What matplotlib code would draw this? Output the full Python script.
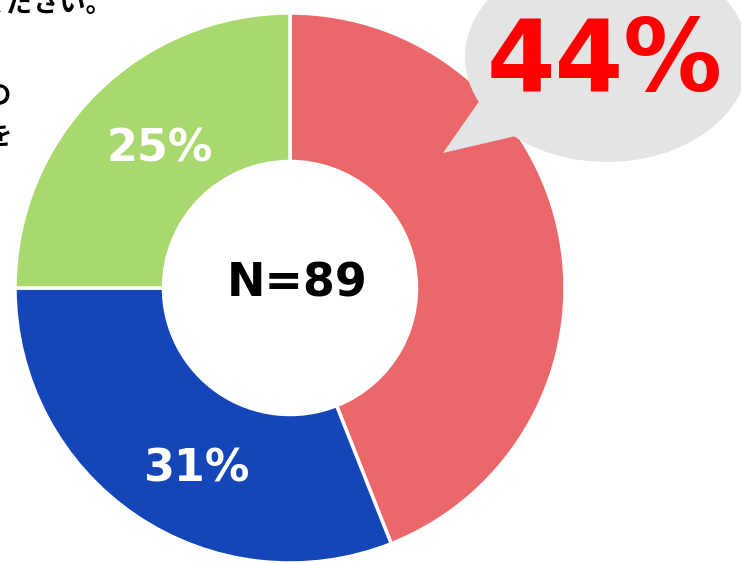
import matplotlib.pyplot as plt
from matplotlib.patches import Ellipse, Polygon

# data
labels = ['A', 'B', 'C']
shares = [44, 31, 25]
colors = ['#EC6769', '#1446BA', '#A8D86E']
n_total = 89
side_texts = ['ください。', 'の', 'を']

W, H = 741, 563
fig = plt.figure(figsize=(W / 100, H / 100), dpi=100)
ax = fig.add_axes([0, 0, 1, 1])

cx, cy, r = 290, 563 - 288, 275
wedges, _ = ax.pie(shares, colors=colors, startangle=90, counterclock=False,
                   radius=r, center=(cx, cy), frame=True,
                   wedgeprops=dict(width=r * 0.54, edgecolor='white', linewidth=2.5))
ax.set_xlim(0, W)
ax.set_ylim(0, H)
ax.set_aspect('equal')
ax.axis('off')

# slice labels (first one goes in the callout)
ax.text(160, 563 - 149, f'{shares[2]}%', color='white', fontsize=32,
        fontweight='bold', ha='center', va='center')
ax.text(196, 563 - 469, f'{shares[1]}%', color='white', fontsize=32,
        fontweight='bold', ha='center', va='center')
ax.text(297, 563 - 284, f'N={n_total}', color='black', fontsize=33,
        fontweight='bold', ha='center', va='center')

# callout bubble
ax.add_patch(Ellipse((607, 563 - 57), 284, 210, facecolor='#E4E4E4',
                     edgecolor='none', zorder=5))
ax.add_patch(Polygon([(480, 563 - 100), (443, 563 - 153), (520, 563 - 135)],
                     facecolor='#E4E4E4', edgecolor='none', zorder=5))
ax.text(605, 563 - 64, f'{shares[0]}%', color='#FF0000', fontsize=71,
        fontweight='bold', ha='center', va='center', zorder=6)

# cut-off question text at the left edge
jp = ['Noto Sans CJK JP', 'DejaVu Sans']
ax.text(112, 563 - 4, side_texts[0], family=jp, fontsize=19, fontweight='bold',
        ha='right', va='center')
ax.text(11, 563 - 97, side_texts[1], family=jp, fontsize=19, fontweight='bold',
        ha='right', va='center')
ax.text(11, 563 - 137, side_texts[2], family=jp, fontsize=19, fontweight='bold',
        ha='right', va='center')

fig.savefig('out.png', dpi=100)
